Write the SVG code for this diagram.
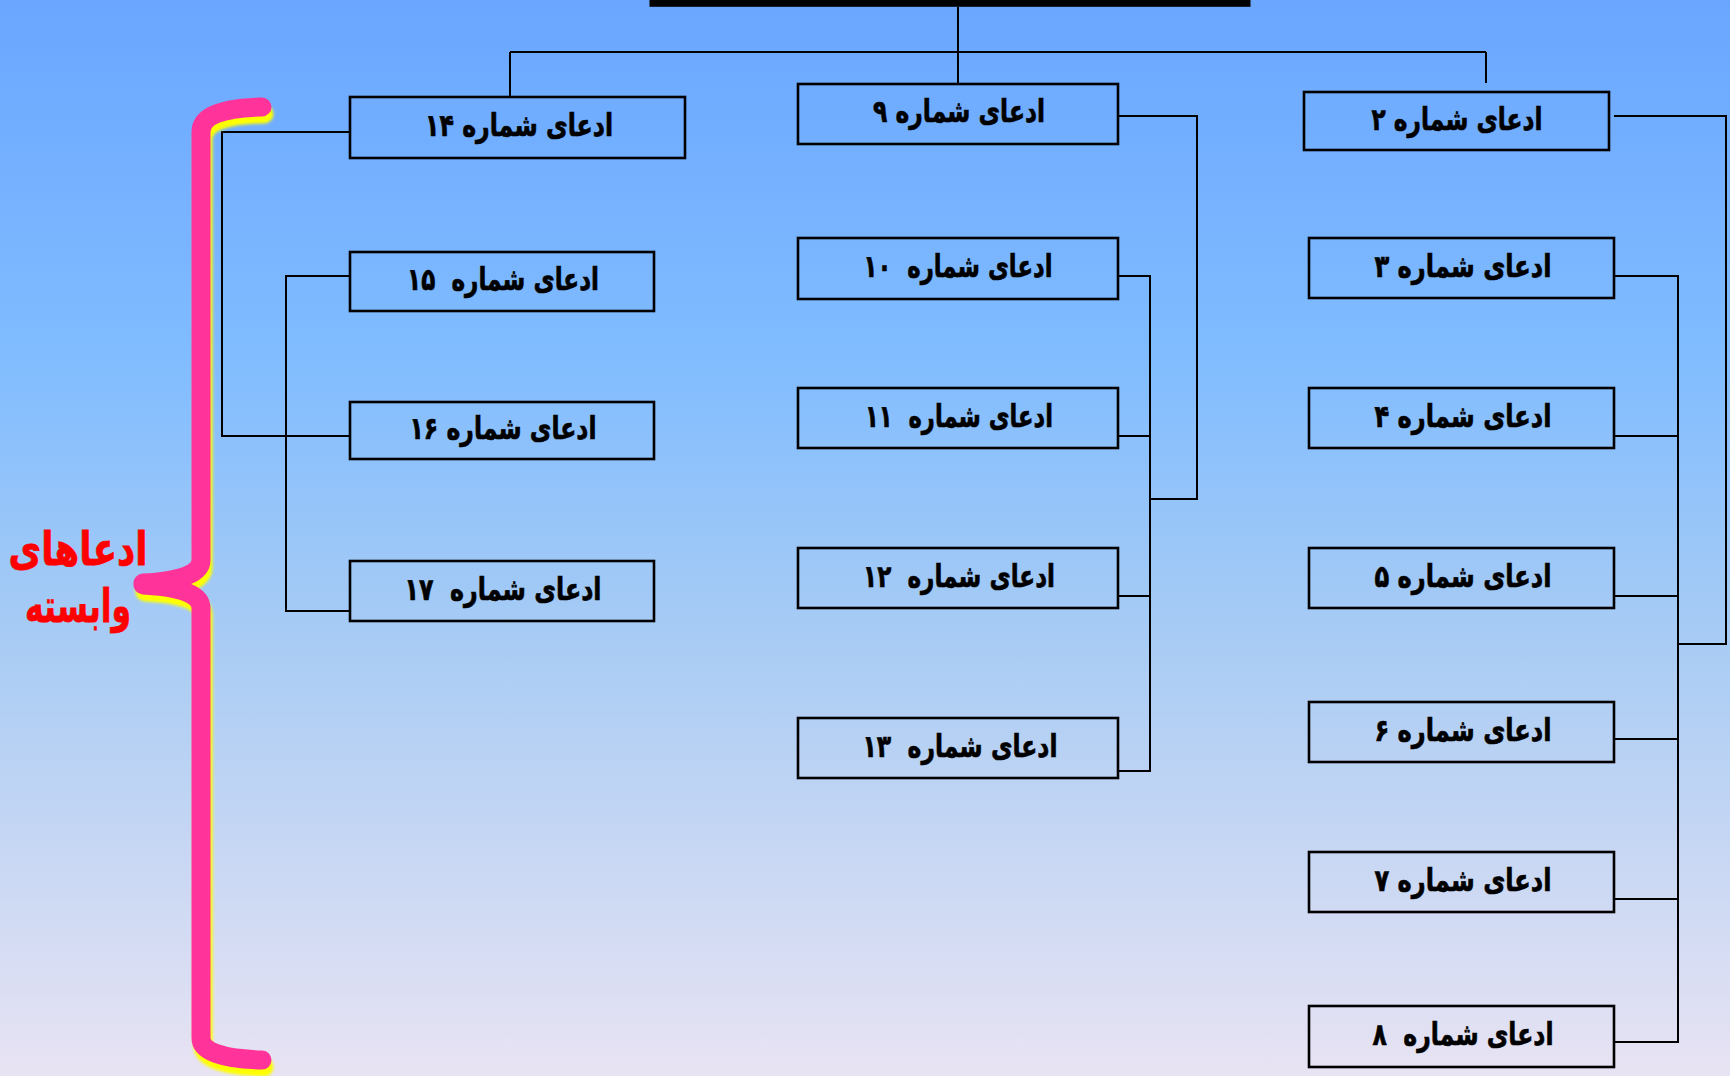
<svg xmlns="http://www.w3.org/2000/svg" width="1730" height="1076" viewBox="0 0 1730 1076">
<defs>
<linearGradient id="bg" x1="0" y1="0" x2="0" y2="1">
<stop offset="0" stop-color="#6aa6ff"/>
<stop offset="0.33" stop-color="#80bcff"/>
<stop offset="0.6" stop-color="#a9ccf4"/>
<stop offset="1" stop-color="#e8e3f3"/>
</linearGradient>
<filter id="blur" x="-20%" y="-5%" width="140%" height="110%"><feGaussianBlur stdDeviation="1.6"/></filter>
</defs>
<style>
.box{fill:none;stroke:#000;stroke-width:2.6}
.lbl{font-family:"DejaVu Sans",sans-serif;font-weight:bold;font-size:31px;fill:#000;stroke:#000;stroke-width:0.7;text-anchor:middle}
.con{fill:none;stroke:#000;stroke-width:2}
.brace{fill:none;stroke-linecap:round;stroke-linejoin:round;stroke-width:19}
.red{font-family:"DejaVu Sans",sans-serif;font-weight:bold;font-size:46px;fill:#ff0000;stroke:#ff0000;stroke-width:0.8;text-anchor:middle}
</style>
<rect x="0" y="0" width="1730" height="1076" fill="url(#bg)"/>

<g id="title">
<rect x="653" y="-60" width="594" height="63.3" fill="none" stroke="#000" stroke-width="7"/>
</g>

<g id="connectors">
<path class="con" d="M958 7V84"/>
<path class="con" d="M510 52H1486M510 52V97M1486 52V83"/>
<path class="con" d="M350 132H222V436H350"/>
<path class="con" d="M350 276H286V611H350"/>
<path class="con" d="M1118 116H1197V499H1150"/>
<path class="con" d="M1118 276H1150V771H1118M1118 436H1150M1118 596H1150"/>
<path class="con" d="M1614 116H1726V644H1678"/>
<path class="con" d="M1614 276H1678V1042H1614M1614 436H1678M1614 596H1678M1614 739H1678M1614 899H1678"/>
</g>

<g id="brace">
<g filter="url(#blur)" transform="translate(2,7)">
<path class="brace" stroke="#ffff00" d="M262 107Q201 108 201 132L201 560Q201 580 143 583"/>
<path class="brace" stroke="#ffff00" d="M143 585Q201 588 201 608L201 1038Q201 1058 262 1060"/>
</g>
<path class="brace" stroke="#ff3399" d="M262 107Q201 108 201 132L201 560Q201 580 143 583"/>
<path class="brace" stroke="#ff3399" d="M143 585Q201 588 201 608L201 1038Q201 1058 262 1060"/>
<text class="red" x="78" y="565" direction="rtl" textLength="139" lengthAdjust="spacingAndGlyphs">ادعاهای</text>
<text class="red" x="78" y="622" direction="rtl" textLength="106" lengthAdjust="spacingAndGlyphs">وابسته</text>
</g>

<g id="n14"><rect class="box" x="350" y="97" width="335" height="61"/><text class="lbl" x="519" y="136" direction="rtl" xml:space="preserve" textLength="188" lengthAdjust="spacingAndGlyphs">ادعای شماره ۱۴</text></g>
<g id="n15"><rect class="box" x="350" y="252" width="304" height="59"/><text class="lbl" x="503" y="290" direction="rtl" xml:space="preserve" textLength="192" lengthAdjust="spacingAndGlyphs">ادعای شماره  ۱۵</text></g>
<g id="n16"><rect class="box" x="350" y="402" width="304" height="57"/><text class="lbl" x="503" y="439" direction="rtl" xml:space="preserve" textLength="187" lengthAdjust="spacingAndGlyphs">ادعای شماره ۱۶</text></g>
<g id="n17"><rect class="box" x="350" y="561" width="304" height="60"/><text class="lbl" x="503" y="600" direction="rtl" xml:space="preserve" textLength="197" lengthAdjust="spacingAndGlyphs">ادعای شماره  ۱۷</text></g>

<g id="n9"><rect class="box" x="798" y="84" width="320" height="60"/><text class="lbl" x="959" y="122" direction="rtl" xml:space="preserve" textLength="172" lengthAdjust="spacingAndGlyphs">ادعای شماره ۹</text></g>
<g id="n10"><rect class="box" x="798" y="238" width="320" height="61"/><text class="lbl" x="958" y="277" direction="rtl" xml:space="preserve" textLength="189" lengthAdjust="spacingAndGlyphs">ادعای شماره  ۱۰</text></g>
<g id="n11"><rect class="box" x="798" y="388" width="320" height="60"/><text class="lbl" x="959" y="427" direction="rtl" xml:space="preserve" textLength="188" lengthAdjust="spacingAndGlyphs">ادعای شماره  ۱۱</text></g>
<g id="n12"><rect class="box" x="798" y="548" width="320" height="60"/><text class="lbl" x="959" y="587" direction="rtl" xml:space="preserve" textLength="192" lengthAdjust="spacingAndGlyphs">ادعای شماره  ۱۲</text></g>
<g id="n13"><rect class="box" x="798" y="718" width="320" height="60"/><text class="lbl" x="960" y="757" direction="rtl" xml:space="preserve" textLength="195" lengthAdjust="spacingAndGlyphs">ادعای شماره  ۱۳</text></g>

<g id="n2"><rect class="box" x="1304" y="92" width="305" height="58"/><text class="lbl" x="1457" y="130" direction="rtl" xml:space="preserve" textLength="171" lengthAdjust="spacingAndGlyphs">ادعای شماره ۲</text></g>
<g id="n3"><rect class="box" x="1309" y="238" width="305" height="60"/><text class="lbl" x="1463" y="277" direction="rtl" xml:space="preserve" textLength="177" lengthAdjust="spacingAndGlyphs">ادعای شماره ۳</text></g>
<g id="n4"><rect class="box" x="1309" y="388" width="305" height="60"/><text class="lbl" x="1463" y="427" direction="rtl" xml:space="preserve" textLength="177" lengthAdjust="spacingAndGlyphs">ادعای شماره ۴</text></g>
<g id="n5"><rect class="box" x="1309" y="548" width="305" height="60"/><text class="lbl" x="1463" y="587" direction="rtl" xml:space="preserve" textLength="177" lengthAdjust="spacingAndGlyphs">ادعای شماره ۵</text></g>
<g id="n6"><rect class="box" x="1309" y="702" width="305" height="60"/><text class="lbl" x="1463" y="741" direction="rtl" xml:space="preserve" textLength="177" lengthAdjust="spacingAndGlyphs">ادعای شماره ۶</text></g>
<g id="n7"><rect class="box" x="1309" y="852" width="305" height="60"/><text class="lbl" x="1463" y="891" direction="rtl" xml:space="preserve" textLength="177" lengthAdjust="spacingAndGlyphs">ادعای شماره ۷</text></g>
<g id="n8"><rect class="box" x="1309" y="1006" width="305" height="61"/><text class="lbl" x="1463" y="1045" direction="rtl" xml:space="preserve" textLength="181" lengthAdjust="spacingAndGlyphs">ادعای شماره  ۸</text></g>
</svg>
